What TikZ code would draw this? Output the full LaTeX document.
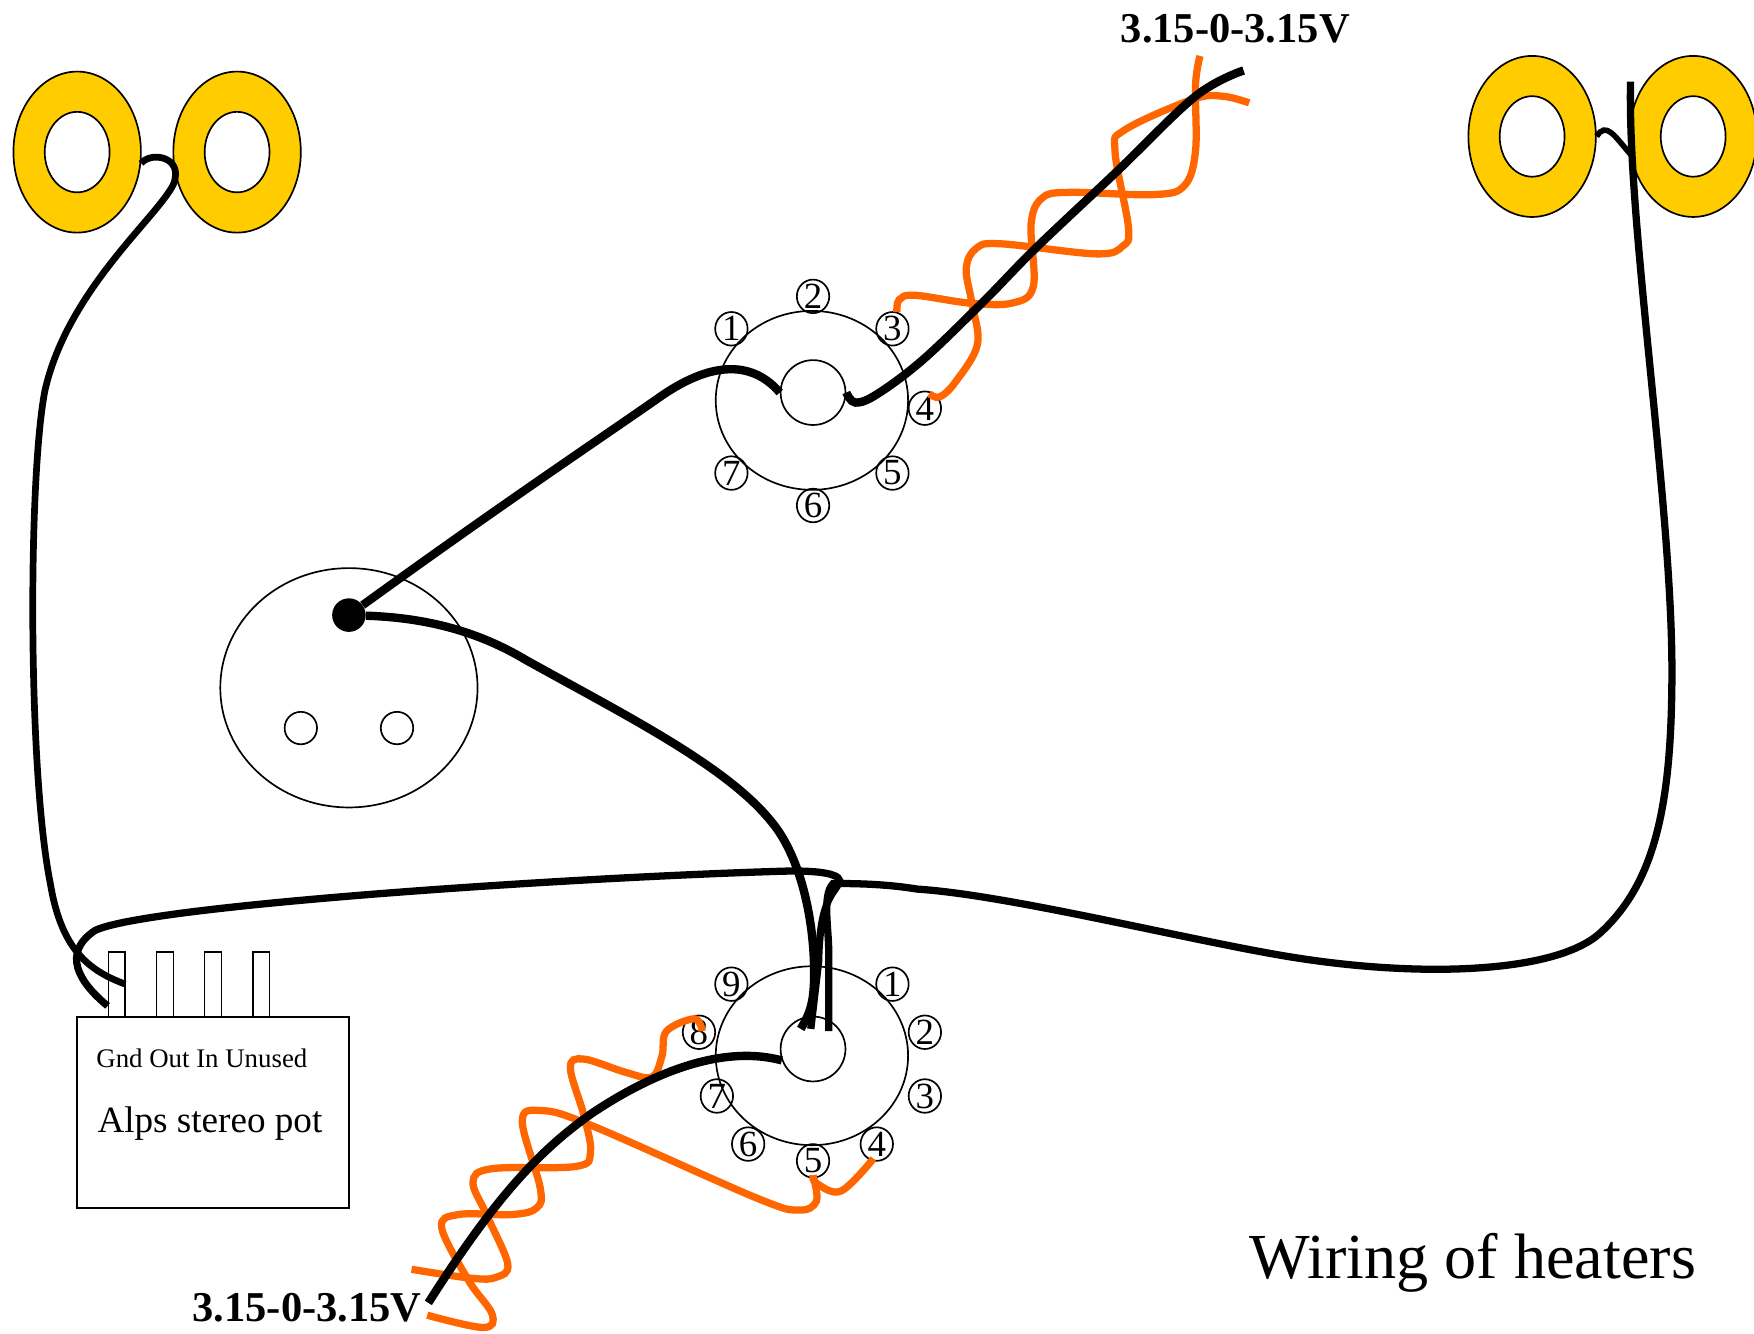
\documentclass[tikz,border=0pt]{standalone}
\usepackage{fontspec}
\setmainfont{Liberation Serif}
\usetikzlibrary{positioning, shapes.geometric}
\definecolor{discyellow}{HTML}{FFCC00}
\definecolor{twistorange}{HTML}{FF6600}
\tikzset{
  discO/.style={ draw, ellipse, line width=1.5pt, fill=discyellow, minimum width=114pt, minimum height=144pt, inner sep=0pt }
}
\tikzset{
  discH/.style={ draw, ellipse, line width=1.5pt, fill=white, minimum width=58pt, minimum height=72pt, inner sep=0pt }
}
\tikzset{
  potbody/.style={ draw, ellipse, line width=1.5pt, minimum width=172pt, minimum height=160pt, inner sep=0pt }
}
\tikzset{
  pinno/.style={ draw, ellipse, line width=1.5pt, minimum width=29pt, minimum height=30pt, inner sep=-5pt, font=\fontsize{33}{33}\selectfont }
}
\tikzset{
  hole/.style={ draw, circle, line width=1.5pt, minimum size=29pt, inner sep=0pt }
}
\tikzset{
  tab/.style={ draw, line width=1.5pt, minimum width=15pt, minimum height=58pt, inner sep=0pt }
}
\tikzset{
  txt/.style={ anchor=base west, inner sep=0pt }
}
\tikzset{
  wire/.style={ line width=7.5pt, black }
}
\tikzset{
  twist/.style={ line width=6.5pt, twistorange }
}
\begin{document}
\begin{tikzpicture}[x=1pt, y=-1pt]
      \useasboundingbox (0, 0) rectangle (1568.4, 1192);

      % heater discs
      \node[discO] (discA) at (69, 136) {};
      \node[discH] (holeA) at (69, 136) {};
      \node[discO] (discB) at (212, 136) {};
      \node[discH] (holeB) at (212, 136) {};
      \node[discO] (discC) at (1370, 122) {};
      \node[discH] (holeC) at (1370, 122) {};
      \node[discO] (discD) at (1514, 122) {};
      \node[discH] (holeD) at (1514, 122) {};

      % top socket
      \node[potbody] (potT) at (726, 358) {};
      \node[hole, minimum size=58pt] (hubT) at (727, 351) {};
      \node[pinno] (t1) at (654, 294) {1};
      \node[pinno] (t2) at (727, 265) {2};
      \node[pinno] (t3) at (798, 294) {3};
      \node[pinno] (t4) at (827, 365) {4};
      \node[pinno] (t5) at (798, 423) {5};
      \node[pinno] (t6) at (727, 452) {6};
      \node[pinno] (t7) at (654, 423) {7};

      % bottom socket
      \node[potbody] (potB) at (726, 944) {};
      \node[hole, minimum size=58pt] (hubB) at (727, 938) {};
      \node[pinno] (b1) at (798, 880) {1};
      \node[pinno] (b2) at (827, 923) {2};
      \node[pinno] (b3) at (827, 980) {3};
      \node[pinno] (b4) at (784, 1023) {4};
      \node[pinno] (b5) at (727, 1038) {5};
      \node[pinno] (b6) at (669, 1023) {6};
      \node[pinno] (b7) at (641, 980) {7};
      \node[pinno] (b8) at (625, 923) {8};
      \node[pinno] (b9) at (654, 880) {9};

      % middle socket
      \node[draw, ellipse, line width=1.5pt, minimum width=230pt, minimum height=214pt, inner sep=0pt] (sock) at (312, 615) {};
      \node[hole] (sockL) at (269, 651) {};
      \node[hole] (sockR) at (355, 651) {};
      \node[circle, fill=black, minimum size=30pt, inner sep=0pt] (sockdot) at (312, 550) {};

      % pot
      \node[draw, line width=1.7pt, minimum width=243pt, minimum height=171pt, inner sep=0pt] (alps) at (190.5, 994.5) {};
      \node[tab] (gnd) at (104.5, 880) {};
      \node[tab] (out) at (147.5, 880) {};
      \node[tab] (in) at (190.5, 880) {};
      \node[tab] (unused) at (233.5, 880) {};
      \node[txt, font=\fontsize{24}{24}\selectfont] (tabnames) at (86, 954.5) {Gnd Out In Unused};
      \node[txt, font=\fontsize{33.2}{33.2}\selectfont] (alpsname) at (87, 1012.5) {Alps stereo pot};

      \node[txt, font=\fontsize{57.4}{57.4}\selectfont] (title) at (1117, 1143.5) {Wiring of heaters};
      \node[txt, font=\bfseries\fontsize{38}{38}\selectfont] (volttop) at (1002, 38) {3.15-0-3.15V};
      \node[txt, font=\bfseries\fontsize{38}{38}\selectfont] (voltbot) at (172, 1182) {3.15-0-3.15V};

      % twisted pairs
      \draw[twist] plot[smooth, tension=0.6] coordinates {(802,279) (804,268) (818,264) (867,271) (905,271) (924,256) (922,200) (932,177) (956,172) (1032,174) (1059,166) (1069,135) (1069,76) (1073,50)};
      \draw[twist] plot[smooth, tension=0.6] coordinates {(831,352) (840,355) (854,342) (874,308) (869,271) (864,240) (873,222) (895,218) (980,227) (1004,220) (1009,203) (997,135) (1006,116) (1066,89) (1093,86) (1117,92)};
      \draw[twist] plot[smooth, tension=0.6] coordinates {(628,922) (621,911) (596,922) (592,944) (583,963) (560,959) (522,947) (510,955) (522,997) (528,1030) (515,1043) (440,1045) (423,1057) (435,1086) (454,1130) (444,1142) (422,1143) (368,1135)};
      \draw[twist] plot[smooth, tension=0.6] coordinates {(727,1051) (730,1074) (714,1082) (676,1071) (528,1006) (483,993) (467,1003) (483,1062) (480,1080) (458,1086) (410,1086) (395,1098) (419,1145) (440,1175) (432,1187) (382,1176)};
      \draw[twist] plot[smooth, tension=0.6] coordinates {(781,1036) (752,1065) (730,1058) (727,1051)};

      % heater wires
      \draw[wire] plot[smooth, tension=0.6] coordinates {(hubT.east) (765,360) (785,352) (826,321) (881,268) (926,222) (998,154) (1069,86) (1112,63)};
      \draw[wire] (hubT.west) .. controls (675,325) and (640,320) .. (590,355) .. controls (540,390) and (450,450) .. (sockdot);
      \draw[wire] (sockdot) .. controls (370,552) and (420,560) .. (470,590) .. controls (560,640) and (650,685) .. (690,735) .. controls (715,765) and (728,820) .. (728,870) .. controls (728,895) and (725,905) .. (716,920);
      \draw[wire] (hubB.200) .. controls (650,935) and (590,955) .. (530,995) .. controls (480,1030) and (440,1075) .. (383,1165);
      \draw[wire, line width=6pt] (discA.350) .. controls (135,135) and (165,140) .. (155,165) .. controls (140,195) and (60,260) .. (40,350) .. controls (25,430) and (25,690) .. (45,790) .. controls (55,850) and (80,868) .. (112,880);
      \draw[wire, line width=6.5pt] (gnd.247) .. controls (70,878) and (55,852) .. (85,832) .. controls (130,810) and (500,785) .. (700,779) .. controls (735,778) and (755,782) .. (750,790) .. controls (745,800) and (733,805) .. (732,860) -- (725,920);
      \draw[wire, line width=6.5pt] (1458,73) .. controls (1455,200) and (1495,450) .. (1495,600) .. controls (1495,720) and (1480,790) .. (1430,835) .. controls (1390,870) and (1270,875) .. (1150,855) .. controls (1060,840) and (900,800) .. (820,795) .. controls (790,790) and (760,790) .. (745,790) .. controls (735,800) and (741,830) .. (741,850) -- (741,922);
      \draw[wire, line width=5pt] (discC.east) .. controls (1436,108) and (1444,122) .. (1458,138);
    \end{tikzpicture}
\end{document}
